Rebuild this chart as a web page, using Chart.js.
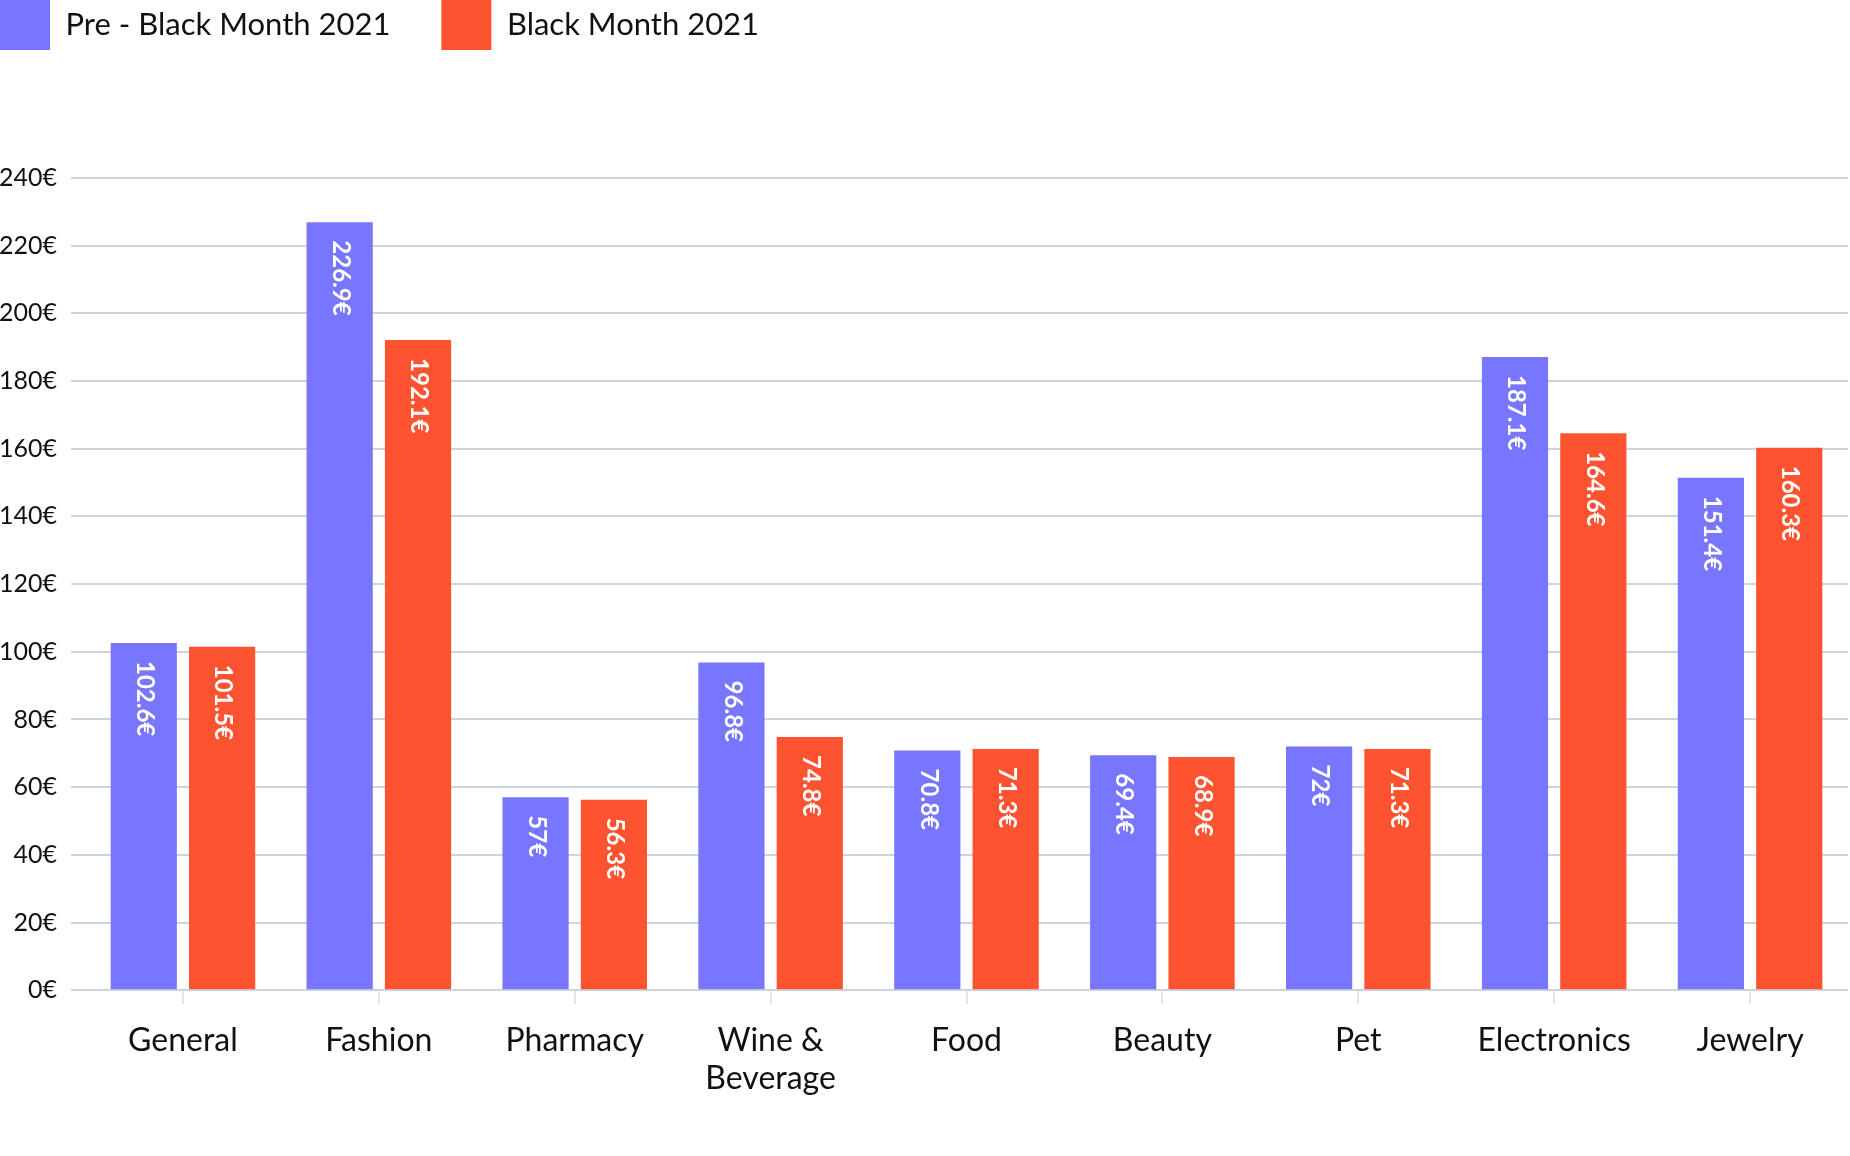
<!DOCTYPE html>
<html>
<head>
<meta charset="utf-8">
<title>Black Month 2021</title>
<script src="https://cdn.jsdelivr.net/npm/chart.js@4.4.0/dist/chart.umd.min.js"></script>
<style>
    html, body { margin: 0; padding: 0; background: #fff; }
    #wrap { width: 1850px; height: 1156px; position: relative; }
</style>
</head>
<body>
<div id="wrap"><canvas id="chart"></canvas></div>
<script>
// datos
const categories = ['General', 'Fashion', 'Pharmacy', ['Wine &', 'Beverage'], 'Food', 'Beauty', 'Pet', 'Electronics', 'Jewelry'];
const preBlackMonth = [102.6, 226.9, 57, 96.8, 70.8, 69.4, 72, 187.1, 151.4];
const blackMonth = [101.5, 192.1, 56.3, 74.8, 71.3, 68.9, 71.3, 164.6, 160.3];
const seriesNames = ['Pre - Black Month 2021', 'Black Month 2021'];
const yMin = 0;
const yMax = 240;
const yStep = 20;

const colors = {
    blue: '#7776fd',
    red: '#fe5331',
    grid: '#ccd4e0',
    tick: '#e6e6e6',
    text: '#111111'
};

const LEGEND_PAD = 51;

// mueve la leyenda a la esquina (el padding se usa solo como separación entre items)
const legendShift = {
    id: 'legendShift',
    afterLayout(chart) {
        if (!chart.legend) return;
        chart.legend.left = -LEGEND_PAD;
        chart.legend.top = -LEGEND_PAD;
    }
};

// etiquetas de valor giradas dentro de cada barra
const barValueLabels = {
    id: 'barValueLabels',
    afterDatasetsDraw(chart) {
        const ctx = chart.ctx;
        chart.data.datasets.forEach((ds, di) => {
            const meta = chart.getDatasetMeta(di);
            if (meta.hidden) return;
            meta.data.forEach((bar, i) => {
                ctx.save();
                ctx.translate(bar.x + 1, bar.y + 18);
                ctx.rotate(Math.PI / 2);
                ctx.fillStyle = '#ffffff';
                ctx.font = 'bold 24px Lato';
                ctx.textAlign = 'left';
                ctx.textBaseline = 'middle';
                ctx.fillText(ds.data[i] + '€', 0, 0);
                ctx.restore();
            });
        });
    }
};

const ctx = document.getElementById('chart').getContext('2d');
new Chart(ctx, {
    type: 'bar',
    data: {
        labels: categories,
        datasets: [{
            label: seriesNames[0],
            data: preBlackMonth,
            backgroundColor: colors.blue,
            barPercentage: 0.845,
            categoryPercentage: 0.8
        }, {
            label: seriesNames[1],
            data: blackMonth,
            backgroundColor: colors.red,
            barPercentage: 0.845,
            categoryPercentage: 0.8
        }]
    },
    options: {
        responsive: true,
        maintainAspectRatio: false,
        animation: false,
        layout: { padding: { top: 67, right: 2, bottom: 41, left: -15 } },
        plugins: {
            legend: {
                position: 'top',
                align: 'start',
                labels: {
                    boxWidth: 50,
                    boxHeight: 50,
                    padding: LEGEND_PAD,
                    color: colors.text,
                    font: { family: 'Lato', size: 31 }
                }
            },
            tooltip: { enabled: false }
        },
        scales: {
            x: {
                grid: {
                    offset: false,
                    drawOnChartArea: false,
                    drawTicks: true,
                    tickLength: 14,
                    color: colors.tick,
                    lineWidth: 2
                },
                border: { display: false },
                ticks: {
                    color: colors.text,
                    padding: 17,
                    font: { family: 'Lato', size: 32 }
                }
            },
            y: {
                min: yMin,
                max: yMax,
                grid: {
                    color: colors.grid,
                    lineWidth: 2,
                    tickLength: 14
                },
                border: { display: false },
                ticks: {
                    stepSize: yStep,
                    color: colors.text,
                    padding: 14,
                    font: { family: 'Lato', size: 25 },
                    callback: (v) => v + '€'
                }
            }
        }
    },
    plugins: [legendShift, barValueLabels]
});
</script>
</body>
</html>
